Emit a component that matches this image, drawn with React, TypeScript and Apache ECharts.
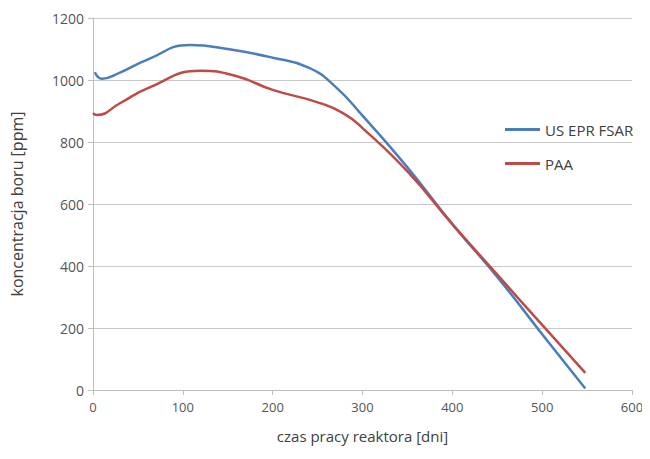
import React, { useEffect, useRef } from "react";
import * as echarts from "echarts";

const usDays = [2, 10, 30, 60, 108, 150, 200, 240, 270, 300, 350, 400, 450, 500, 548];
const usEprFsar = [1025, 1004, 1024, 1065, 1113, 1100, 1072, 1040, 978, 885, 718, 535, 365, 180, 5];
const paaDays = [0, 4, 30, 60, 120, 160, 200, 250, 280, 300, 350, 400, 450, 500, 548];
const paa = [893, 887, 925, 972, 1030, 1012, 968, 928, 890, 845, 705, 535, 372, 210, 55];
const seriesNames = ["US EPR FSAR", "PAA"];

export default function App() {
  const ref = useRef<HTMLDivElement>(null);
  useEffect(() => {
    const chart = echarts.init(ref.current!, null, { renderer: "svg" });
    const font = "Open Sans";
    chart.setOption({
      animation: false,
      backgroundColor: "#ffffff",
      grid: { left: 93, right: 18, top: 18, bottom: 69 },
      legend: {
        orient: "vertical",
        left: 500,
        top: 117,
        itemGap: 19,
        itemWidth: 35,
        itemHeight: 3,
        icon: "rect",
        textStyle: { fontFamily: font, fontSize: 15, color: "#404040" },
        data: seriesNames,
      },
      xAxis: {
        type: "value",
        min: 0,
        max: 600,
        interval: 100,
        name: "czas pracy reaktora [dni]",
        nameLocation: "middle",
        nameGap: 38,
        nameTextStyle: { fontFamily: font, fontSize: 15, color: "#404040" },
        axisLine: { show: true, lineStyle: { color: "#bfbfbf" } },
        axisTick: { show: true, length: 5, lineStyle: { color: "#bfbfbf" } },
        axisLabel: { fontFamily: font, fontSize: 13, color: "#555555", margin: 10 },
        splitLine: { show: false },
      },
      yAxis: {
        type: "value",
        min: 0,
        max: 1200,
        interval: 200,
        name: "koncentracja boru [ppm]",
        nameLocation: "middle",
        nameGap: 68,
        nameTextStyle: { fontFamily: font, fontSize: 16, color: "#404040" },
        axisLine: { show: true, lineStyle: { color: "#bfbfbf" } },
        axisTick: { show: true, length: 5, lineStyle: { color: "#bfbfbf" } },
        axisLabel: {
          fontFamily: font,
          fontSize: 14,
          color: "#555555",
          margin: 9,
          formatter: (v: number) => String(v),
        },
        splitLine: { show: true, lineStyle: { color: "#c8c8c8" } },
      },
      series: [
        {
          name: seriesNames[0],
          type: "line",
          smooth: 0.5,
          showSymbol: false,
          symbol: "none",
          lineStyle: { color: "#4a7ebb", width: 2.5 },
          itemStyle: { color: "#4a7ebb" },
          data: usDays.map((d, i) => [d, usEprFsar[i]]),
        },
        {
          name: seriesNames[1],
          type: "line",
          smooth: 0.5,
          showSymbol: false,
          symbol: "none",
          lineStyle: { color: "#be4b48", width: 2.5 },
          itemStyle: { color: "#be4b48" },
          data: paaDays.map((d, i) => [d, paa[i]]),
        },
      ],
    });
    return () => chart.dispose();
  }, []);
  return <div ref={ref} style={{ width: 650, height: 459, margin: -8 }} />;
}
